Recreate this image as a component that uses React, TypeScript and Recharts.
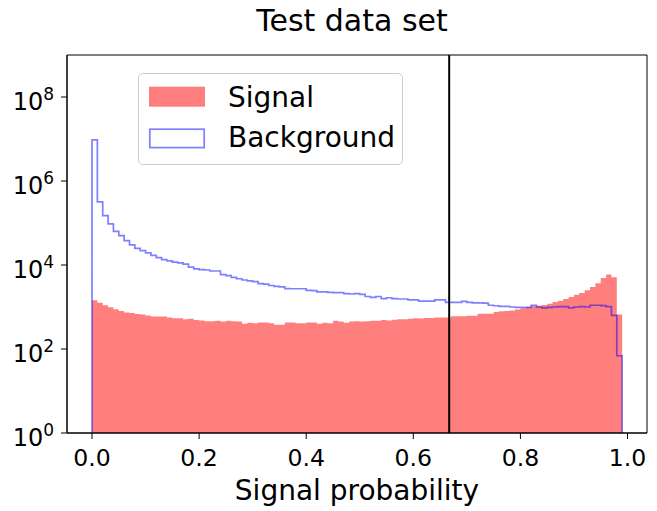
import React from "react";
import { ComposedChart, Area, Line, XAxis, YAxis, ReferenceLine, ReferenceArea, Legend } from "recharts";

// histogram: 99 bins of width 0.01 starting at 0
const BIN_WIDTH = 0.01;

const signalCounts = [
  1450, 1260, 1100, 980, 890, 800, 740, 720, 680, 660,
  630, 590, 590, 590, 560, 540, 540, 510, 525, 490,
  480, 460, 455, 470, 450, 470, 460, 450, 400, 420,
  410, 430, 430, 410, 380, 380, 430, 430, 410, 410,
  430, 430, 400, 420, 410, 470, 450, 420, 450, 460,
  450, 460, 470, 470, 490, 480, 500, 510, 510, 525,
  540, 535, 550, 550, 560, 560, 560, 600, 600, 600,
  620, 620, 690, 690, 690, 760, 790, 800, 830, 870,
  930, 980, 1050, 1070, 1120, 1200, 1320, 1410, 1550, 1740,
  1950, 2140, 2500, 3000, 3700, 4900, 5900, 5100, 660,
];

const backgroundCounts = [
  9500000, 320000, 150000, 95000, 63000, 50000, 38000, 30000, 25000, 22000,
  19500, 17000, 15000, 13500, 12600, 11700, 11200, 10500, 8900, 8100,
  7800, 7600, 7200, 7200, 5900, 5600, 5100, 4700, 4400, 4200,
  4000, 3600, 3500, 3250, 3100, 3000, 2750, 2720, 2720, 2720,
  2500, 2450, 2300, 2290, 2240, 2190, 2190, 2090, 2040, 2090,
  2000, 1780, 1700, 1780, 1590, 1660, 1590, 1550, 1550, 1480,
  1480, 1380, 1380, 1380, 1480, 1480, 1290, 1290, 1290, 1360,
  1290, 1260, 1260, 1230, 1100, 1070, 1030, 1030, 1000, 980,
  980, 980, 1100, 1000, 950, 980, 1000, 1020, 1020, 950,
  1000, 1020, 1000, 1100, 1100, 1080, 1020, 630, 69,
];

const xTicks = [0, 0.2, 0.4, 0.6, 0.8, 1.0];
const yTicks = [1, 1e2, 1e4, 1e6, 1e8];
const cutValue = 0.667;

const X_DOMAIN = [-0.0467, 1.0364];
const Y_DOMAIN = [1, 1e9];
const FONT = "DejaVu Sans";

// step rows on bin edges, closed at both ends down to the floor (1)
const rows: { x: number; signal: number; background: number }[] = [{ x: 0, signal: 1, background: 1 }];
signalCounts.forEach((s, i) => {
  rows.push({ x: +(i * BIN_WIDTH).toFixed(2), signal: s, background: backgroundCounts[i] });
});
rows.push({
  x: +(signalCounts.length * BIN_WIDTH).toFixed(2),
  signal: signalCounts[signalCounts.length - 1],
  background: 1,
});

const LogTick = (props: any) => {
  const { x, y, payload } = props;
  const exp = Math.round(Math.log10(payload.value));
  return (
    <text x={x} y={y} textAnchor="end" fontFamily={FONT} fill="#000">
      <tspan fontSize={24} dy={13}>10</tspan>
      <tspan fontSize={17} dy={-10}>{exp}</tspan>
    </text>
  );
};

const LegendBox = () => (
  <div
    style={{
      width: 265,
      height: 92,
      boxSizing: "border-box",
      border: "1px solid #cccccc",
      borderRadius: 5,
      background: "rgba(255,255,255,0.8)",
    }}
  >
    <svg width={263} height={90} style={{ display: "block" }}>
      <rect x={10} y={12.7} width={56} height={20} fill="#ff0000" fillOpacity={0.5} />
      <rect x={10.8} y={55.2} width={54.4} height={18.4} fill="none" stroke="#0000ff" strokeOpacity={0.5} strokeWidth={1.7} />
      <text x={89} y={32.7} fontFamily={FONT} fontSize={28} fill="#000">Signal</text>
      <text x={89} y={73.3} fontFamily={FONT} fontSize={28} fill="#000">Background</text>
    </svg>
  </div>
);

export default function App() {
  return (
    <div style={{ position: "absolute", left: 0, top: 0, width: 657, height: 511, background: "#fff" }}>
      <svg width={657} height={50} style={{ position: "absolute", left: 0, top: 0 }}>
        <text x={352} y={31} textAnchor="middle" fontFamily={FONT} fontSize={30} fill="#000">
          Test data set
        </text>
      </svg>
      <ComposedChart
        width={657}
        height={511}
        data={rows}
        margin={{ top: 55, right: 10, bottom: 0, left: 0 }}
      >
        <XAxis
          dataKey="x"
          type="number"
          domain={X_DOMAIN}
          allowDataOverflow
          ticks={xTicks}
          tickFormatter={(v: number) => v.toFixed(1)}
          height={78}
          tickSize={6}
          tickMargin={10}
          tick={{ fontSize: 23.6, fill: "#000", fontFamily: FONT }}
          axisLine={{ stroke: "#000", strokeWidth: 1 }}
          tickLine={{ stroke: "#000", strokeWidth: 1 }}
          label={{
            value: "Signal probability",
            position: "insideBottom",
            offset: 11,
            fontSize: 28,
            fill: "#000",
            fontFamily: FONT,
          }}
        />
        <YAxis
          type="number"
          scale="log"
          domain={Y_DOMAIN}
          allowDataOverflow
          ticks={yTicks}
          width={67}
          tickSize={6}
          tickMargin={7}
          tick={<LogTick />}
          axisLine={{ stroke: "#000", strokeWidth: 1 }}
          tickLine={{ stroke: "#000", strokeWidth: 1 }}
        />
        <Area
          dataKey="signal"
          name="Signal"
          type="stepAfter"
          baseValue={1}
          fill="#ff0000"
          fillOpacity={0.5}
          stroke="none"
          isAnimationActive={false}
        />
        <Line
          dataKey="background"
          name="Background"
          type="stepAfter"
          stroke="#0000ff"
          strokeOpacity={0.5}
          strokeWidth={1.7}
          dot={false}
          activeDot={false}
          isAnimationActive={false}
        />
        <ReferenceLine x={cutValue} stroke="#000" strokeWidth={2} />
        {/* axes frame (top and right spines) */}
        <ReferenceArea
          x1={X_DOMAIN[0]}
          x2={X_DOMAIN[1]}
          y1={Y_DOMAIN[0]}
          y2={Y_DOMAIN[1]}
          fill="none"
          fillOpacity={0}
          stroke="#000"
          strokeWidth={1}
          strokeOpacity={1}
          ifOverflow="visible"
        />
        <Legend
          layout="vertical"
          align="center"
          verticalAlign="middle"
          content={<LegendBox />}
          wrapperStyle={{ left: 138, top: 73, width: 265, height: 92 }}
        />
      </ComposedChart>
    </div>
  );
}
